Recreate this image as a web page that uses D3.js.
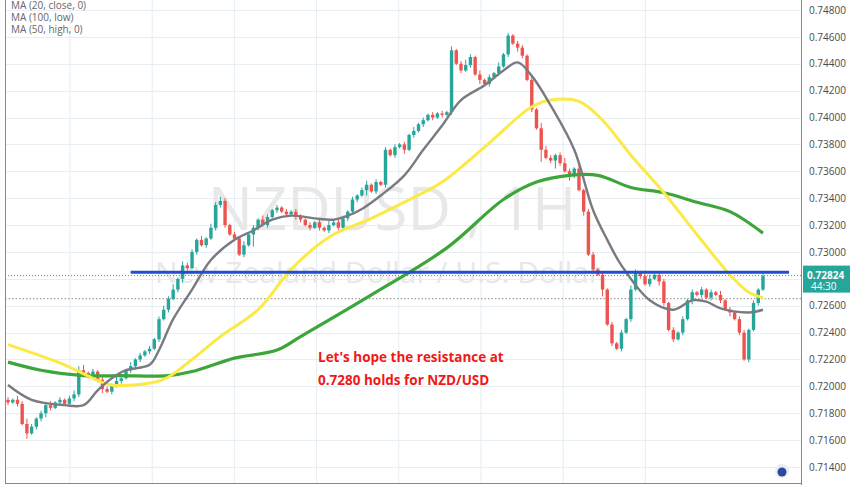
<!DOCTYPE html>
<html><head><meta charset="utf-8">
<script src="https://cdn.jsdelivr.net/npm/d3@7"></script>
<style>body{margin:0;background:#fff}svg{display:block;font-family:"Open Sans",Roboto,sans-serif}</style>
</head><body><svg id="c" width="852" height="485"></svg>
<script>
// closes in pips above 0.7000 (0.0001 units)
const closes=[188,190,187,172,165,170,176,180,186,184,188,190,187,191,194,
212,210,208,211,205,198,196,200,204,206,212,215,220,223,226,
228,235,250,257,265,272,280,290,288,300,309,305,310,318,335,338,
320,313,310,298,305,313,318,324,320,326,331,333,330,328,330,326,
324,320,318,322,318,316,320,322,318,325,330,339,342,346,350,345,352,350,
376,372,378,380,376,387,390,395,398,402,400,403,402,404,
450,440,435,439,445,432,428,425,430,433,438,447,461,455,452,
446,428,406,392,376,370,368,372,366,360,357,362,346,330,298,
287,283,272,246,232,228,240,250,272,285,282,276,280,283,278,
262,242,235,240,250,264,270,268,272,266,270,268,264,257,255,250,240,220,242,262,272,282];
const wickUp="213242121312123"+"341212223213121"+"2123241322131323"+"2121312132121212"+"212121312212123121"+"21212131212121"+"312421312131212"+"212143212421312"+"212121213214312"+"2121212121213121221212";
const wickDown="212141223212122"+"212123121212121"+"2121212321212122"+"2121219212121212"+"212121212121214121"+"21213121212121"+"212121312121213"+"212191262142131"+"215121212121213"+"2121213121212131212121";
// moving averages [candle index, pips]
const ma20=[[0,201],[5,190],[12,186],[16,186],[19,197],[22,206],[25,212],[30,216],[32,227],[35,250],[39,272],[43,294],[48,309],[52,316],[56,324],[60,327],[65,325],[69,324],[72,327],[75,332],[79,342],[84,357],[88,376],[92,394],[96,413],[101,424],[105,435],[108,441],[111,431],[115,409],[120,376],[124,331],[127,309],[130,290],[136,264],[141,257],[145,264],[148,263],[151,258],[157,255],[160,257]];
const ma50=[[0,231],[12,216],[18,206],[22,201],[31,203],[34,207],[39,220],[45,237],[53,257],[60,287],[68,311],[77,325],[84,337],[92,352],[101,378],[111,408],[115,413],[121,412],[126,398],[132,372],[139,344],[146,313],[153,283],[157,270],[160,266]];
const ma100=[[0,218],[7,212],[16,208],[24,208],[34,208],[39,211],[48,221],[57,227],[62,237],[77,268],[93,303],[105,339],[112,352],[119,357],[125,357],[132,348],[139,344],[146,337],[153,330],[160,314]];
const yTicks=[0.748,0.746,0.744,0.742,0.740,0.738,0.736,0.734,0.732,0.730,0.728,0.726,0.724,0.722,0.720,0.718,0.716,0.714];
const legend=["MA (20, close, 0)","MA (100, low)","MA (50, high, 0)"];
const resistance=0.72848, lastPrice=0.72824, prevLevel=0.72652;

const P=p=>0.7+p/10000;
const svg=d3.select("#c");
const n=closes.length;
const x=d3.scaleBand().domain(d3.range(n)).range([5,766]).padding(0.28);
const y=d3.scaleLinear().domain([0.714,0.748]).range([467,10]);
const cx=i=>x(i)+x.bandwidth()/2;
// grid
svg.append("g").selectAll("line").data(yTicks).join("line").attr("x1",5).attr("x2",801).attr("y1",d=>Math.round(y(d))+.5).attr("y2",d=>Math.round(y(d))+.5).attr("stroke","#e6edf3");
svg.append("g").selectAll("line").data(d3.range(8)).join("line").attr("x1",d=>70+d*82.2).attr("x2",d=>70+d*82.2).attr("y1",0).attr("y2",483).attr("stroke","#e6edf3");
// watermark
svg.append("text").attr("x",392).attr("y",230).attr("text-anchor","middle").attr("font-size",60).attr("fill","#e8e8e8").text("NZDUSD , 1H");
svg.append("text").attr("x",378).attr("y",283).attr("text-anchor","middle").attr("font-size",30).attr("fill","#e8e8e8").text("New Zealand Dollar / U.S. Dollar");
// dotted lines
svg.append("line").attr("x1",5).attr("x2",801).attr("y1",y(prevLevel)).attr("y2",y(prevLevel)).attr("stroke","#888").attr("stroke-dasharray","1.5,2");
svg.append("line").attr("x1",5).attr("x2",801).attr("y1",y(lastPrice)).attr("y2",y(lastPrice)).attr("stroke","#26a69a").attr("stroke-dasharray","1,2");
// candles
const data=closes.map((c,i)=>{const o=i?closes[i-1]:c+2;return{i,o:P(o),c:P(c),h:P(Math.max(o,c)+ +(wickUp[i]||1)),l:P(Math.min(o,c)- +(wickDown[i]||1))}});
const g=svg.append("g");
g.selectAll("line").data(data).join("line").attr("x1",d=>cx(d.i)).attr("x2",d=>cx(d.i)).attr("y1",d=>y(d.h)).attr("y2",d=>y(d.l)).attr("stroke",d=>d.c>=d.o?"#26a69a":"#ef5350");
g.selectAll("rect").data(data).join("rect").attr("x",d=>x(d.i)).attr("width",x.bandwidth()).attr("y",d=>y(Math.max(d.o,d.c))).attr("height",d=>Math.max(1,Math.abs(y(d.o)-y(d.c)))).attr("fill",d=>d.c>=d.o?"#26a69a":"#ef5350");
// MAs
const line=d3.line().x(d=>cx(d[0])).y(d=>y(P(d[1]))).curve(d3.curveCatmullRom);
svg.append("path").attr("d",line(ma100)).attr("fill","none").attr("stroke","#3da63a").attr("stroke-width",3.2);
svg.append("path").attr("d",line(ma50)).attr("fill","none").attr("stroke","#fbea45").attr("stroke-width",3);
svg.append("path").attr("d",line(ma20)).attr("fill","none").attr("stroke","#7a7a82").attr("stroke-width",2.4);
// resistance
svg.append("line").attr("x1",cx(26)).attr("x2",789).attr("y1",y(resistance)).attr("y2",y(resistance)).attr("stroke","#1f4fd0").attr("stroke-width",3);
// frame
svg.append("line").attr("x1",5.5).attr("x2",5.5).attr("y1",0).attr("y2",483).attr("stroke","#888");
svg.append("line").attr("x1",5).attr("x2",801).attr("y1",483.5).attr("y2",483.5).attr("stroke","#888");
svg.append("line").attr("x1",801.5).attr("x2",801.5).attr("y1",0).attr("y2",485).attr("stroke","#888");
// axis (tick hidden behind the price label is left out)
const shown=yTicks.filter(t=>Math.abs(y(t)-y(lastPrice))>16);
const ax=d3.axisRight(y).tickValues(shown).tickFormat(d3.format(".5f")).tickSize(0).tickPadding(8);
const ag=svg.append("g").attr("transform","translate(801,0)").call(ax);
ag.select(".domain").remove();
ag.selectAll("text").attr("font-size",10).attr("fill","#4a4a4a").attr("font-family","Open Sans,sans-serif");
// price label
const ly=y(lastPrice);
svg.append("rect").attr("x",803).attr("y",ly-10).attr("width",47).attr("height",27).attr("fill","#26a69a");
svg.append("text").attr("x",807).attr("y",ly+3).attr("font-size",10).attr("font-weight","bold").attr("fill","#fff").text(lastPrice.toFixed(5));
svg.append("text").attr("x",811).attr("y",ly+14).attr("font-size",10).attr("fill","#fff").text("44:30");
// legend
svg.append("g").selectAll("text").data(legend).join("text").attr("x",11).attr("y",(d,i)=>9+i*12).attr("font-size",10).attr("fill","#666").text(d=>d);
// annotation
svg.append("text").attr("x",318).attr("y",362).attr("font-size",13.5).attr("font-weight","bold").attr("fill","#f01818").text("Let's hope the resistance at");
svg.append("text").attr("x",318).attr("y",385).attr("font-size",13.5).attr("font-weight","bold").attr("fill","#f01818").text("0.7280 holds for NZD/USD");
// logo
svg.append("circle").attr("cx",782).attr("cy",471).attr("r",7).attr("fill","#e9eef5");
svg.append("circle").attr("cx",782).attr("cy",472).attr("r",4.5).attr("fill","#2b4a9a");
</script></body></html>
